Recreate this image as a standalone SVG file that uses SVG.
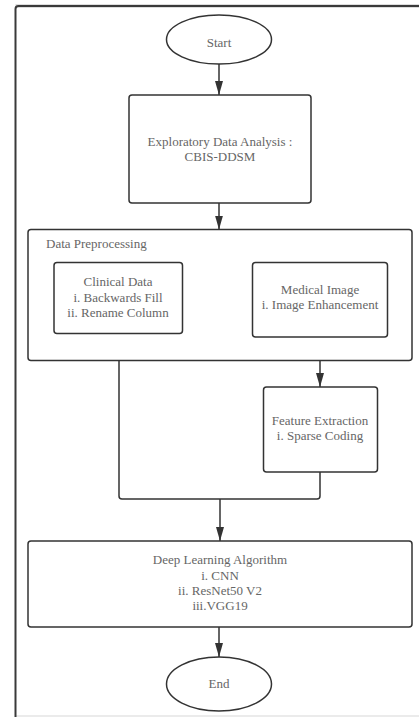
<svg xmlns="http://www.w3.org/2000/svg" width="419" height="717" viewBox="0 0 419 717">
<style>
.box{fill:#fff;stroke:#333;stroke-width:1.5}
.t{font-family:"Liberation Serif","Times New Roman",serif;font-size:13px;fill:#666;text-anchor:middle}
.tl{font-family:"Liberation Serif","Times New Roman",serif;font-size:13px;fill:#666}
.c{fill:none;stroke:#333;stroke-width:1.5}
</style>
<defs>
<marker id="arr" markerWidth="14" markerHeight="8" refX="14" refY="4" orient="auto" markerUnits="userSpaceOnUse" viewBox="0 0 14 8">
<path d="M0,0 L14,4 L0,8 Z" fill="#333"/>
</marker>
</defs>
<rect width="419" height="717" fill="#fff"/>
<g id="frame">
<line x1="15.5" y1="6" x2="419" y2="6" stroke="#ddd" stroke-width="4"/>
<line x1="15.5" y1="716" x2="419" y2="716" stroke="#e4e4e4" stroke-width="1.5"/>
<path d="M15.5,717 L15.5,9 Q15.5,6 18.5,6 L419,6" fill="none" stroke="#3a3a3a" stroke-width="2"/>
</g>
<g id="connectors">
<path class="c" d="M219,64 L219,95" marker-end="url(#arr)"/>
<path class="c" d="M219,203 L219,229.5" marker-end="url(#arr)"/>
<path class="c" d="M320,337 L320,387" marker-end="url(#arr)"/>
<path class="c" d="M119,361 L119,496 Q119,499 122,499 L317,499 Q320,499 320,496 L320,472"/>
<path class="c" d="M220,499 L220,541" marker-end="url(#arr)"/>
<path class="c" d="M219,627 L219,657" marker-end="url(#arr)"/>
</g>
<g id="start">
<ellipse class="box" cx="219" cy="39.5" rx="52.5" ry="24.5"/>
<text class="t" x="219" y="47">Start</text>
</g>
<g id="eda">
<rect class="box" x="129" y="95" width="182" height="108" rx="3"/>
<text class="t" x="220" y="146">Exploratory Data Analysis :</text>
<text class="t" x="220" y="161">CBIS-DDSM</text>
</g>
<g id="preprocessing">
<rect class="box" x="28" y="229.5" width="384" height="131" rx="3"/>
<text class="tl" x="46" y="248">Data Preprocessing</text>
</g>
<g id="clinical">
<rect class="box" x="54" y="262.5" width="128.5" height="71" rx="3"/>
<text class="t" x="118" y="286">Clinical Data</text>
<text class="t" x="118" y="301.5">i. Backwards Fill</text>
<text class="t" x="118" y="317">ii. Rename Column</text>
</g>
<g id="medical">
<rect class="box" x="252.5" y="262.5" width="135" height="74.5" rx="3"/>
<text class="t" x="320" y="294">Medical Image</text>
<text class="t" x="320" y="309">i. Image Enhancement</text>
</g>
<g id="feature">
<rect class="box" x="263.5" y="387" width="114" height="85" rx="3"/>
<text class="t" x="320" y="425">Feature Extraction</text>
<text class="t" x="320" y="440">i. Sparse Coding</text>
</g>
<g id="deep">
<rect class="box" x="28" y="541" width="384" height="86" rx="3"/>
<text class="t" x="220" y="564">Deep Learning Algorithm</text>
<text class="t" x="220" y="580">i. CNN</text>
<text class="t" x="220" y="595">ii. ResNet50 V2</text>
<text class="t" x="220" y="610">iii.VGG19</text>
</g>
<g id="end">
<ellipse class="box" cx="219" cy="684" rx="52.5" ry="27"/>
<text class="t" x="219" y="688">End</text>
</g>
</svg>
